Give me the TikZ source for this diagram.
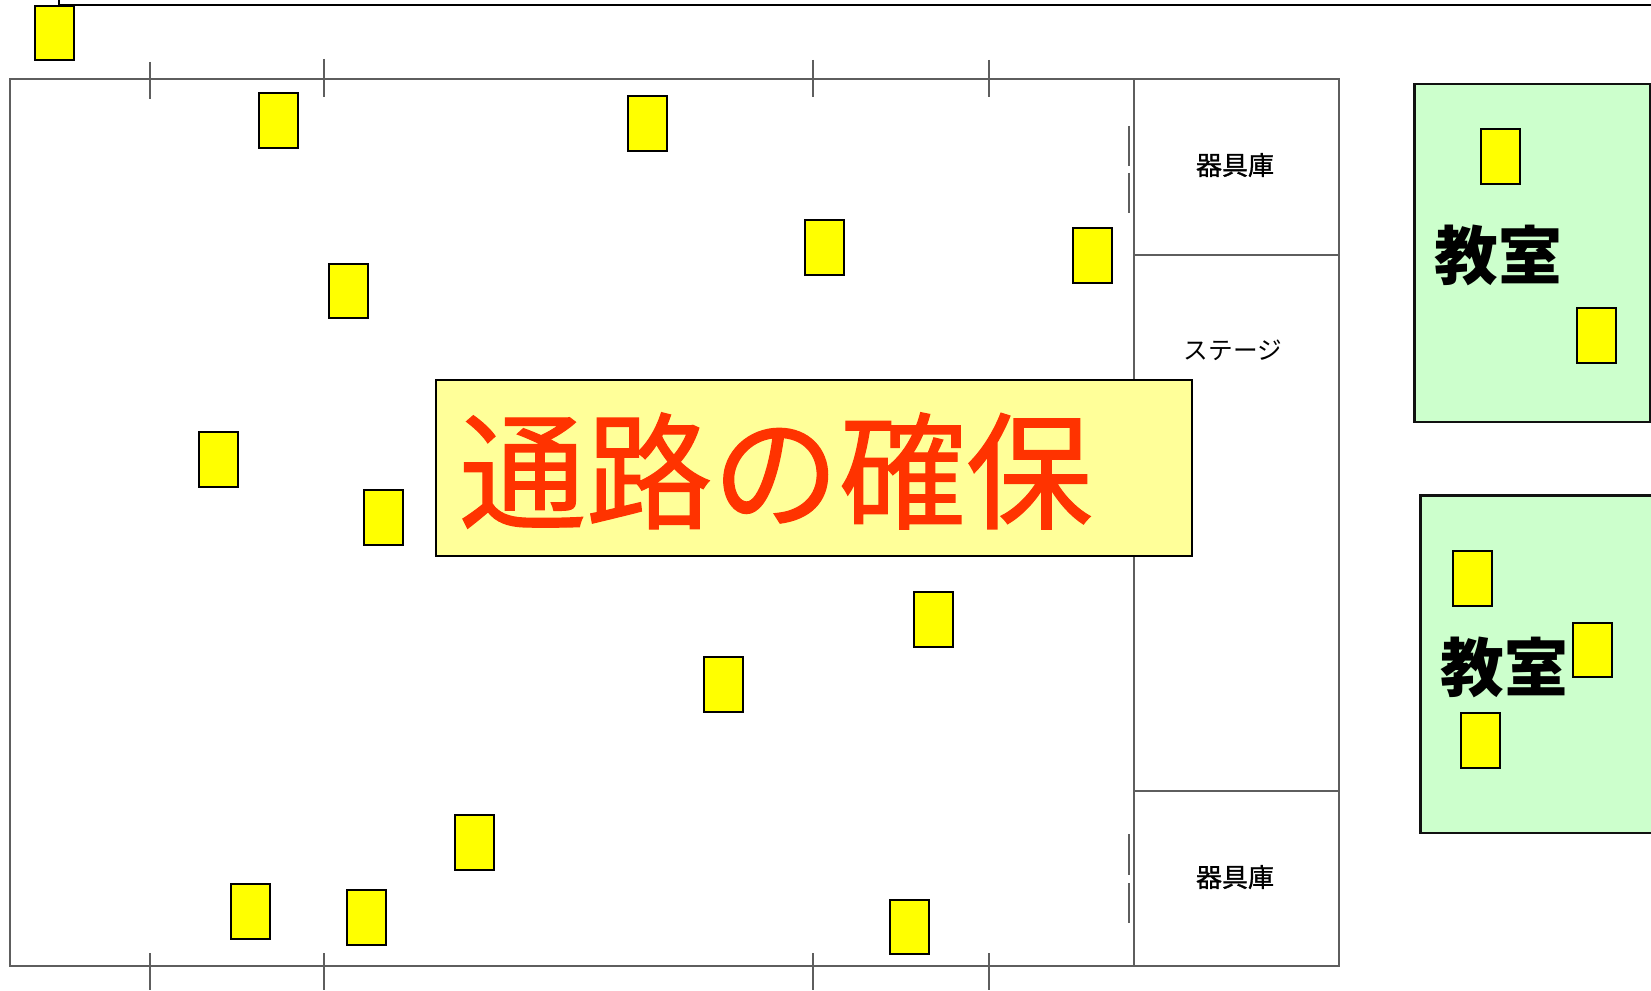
\documentclass[tikz,border=0pt]{standalone}
\usepackage{fontspec}
\setmainfont{Noto Sans CJK JP}
\newfontfamily\notefont[FakeBold=1.0]{Noto Sans CJK JP}
\newfontfamily\storefont[FakeBold=1.2]{Noto Sans CJK JP}
\definecolor{wallgray}{HTML}{5E5E5E}
\definecolor{roomgreen}{HTML}{CCFFCC}
\definecolor{notepale}{HTML}{FFFF99}
\definecolor{notered}{HTML}{FF3300}
\definecolor{markyellow}{HTML}{FFFF00}
\definecolor{edgedark}{HTML}{111111}
\tikzset{
  wall/.style={draw=wallgray,line width=1.5pt},
  tick/.style={draw=wallgray,line width=1.4pt},
  ybox/.style={draw=black,fill=markyellow,line width=1.5pt,anchor=north west,
    minimum width=29.3pt,minimum height=41pt,inner sep=0pt,outer sep=0pt},
  room/.style={draw=edgedark,fill=roomgreen,line width=1.7pt},
  labelsmall/.style={inner sep=0pt,font=\storefont\fontsize{19.5pt}{22pt}\selectfont,text=black},
  labelroom/.style={inner sep=0pt,font=\fontsize{47.8pt}{52pt}\selectfont\bfseries,text=black},
}
\begin{document}
\begin{tikzpicture}[x=0.75pt,y=-0.75pt]
\useasboundingbox (0,0) rectangle (1651,991);
% top line
\coordinate (tla) at (59,0);
\coordinate (tlb) at (59,5);
\coordinate (tlc) at (1651,5);
\draw[black,line width=1.3pt] (tla) -- (tlb) -- (tlc);
% hall
\draw[wall] (10,79.3) rectangle (1338.8,966);
\draw[wall] (1133.5,79.3) -- (1133.5,966);
\draw[wall] (1133.5,254.7) -- (1338.8,254.7);
\draw[wall] (1133.5,790.7) -- (1338.8,790.7);
% doors
\draw[tick] (1129.3,126) -- (1129.3,166);
\draw[tick] (1129.3,173) -- (1129.3,213);
\draw[tick] (1129.3,834) -- (1129.3,875);
\draw[tick] (1129.3,883) -- (1129.3,923);
% ticks
\foreach \tx/\ta/\tb in {150/62/99,324/59/97,813/60/97,989/60/97}{
  \draw[tick] (\tx,\ta) -- (\tx,\tb);
}
\foreach \tx in {150,324,813,989}{
  \draw[tick] (\tx,953) -- (\tx,990);
}
% rooms
\draw[room] (1414.5,84) rectangle (1650,422);
\fill[roomgreen] (1420.5,495.5) rectangle (1651,833);
\draw[edgedark,line width=1.7pt] (1651,495.5) -- (1420.5,495.5) -- (1420.5,833) -- (1651,833);
% labels
\node[labelsmall] (sto1) at (1235,165) {器具庫};
\node[labelsmall] (sto2) at (1235,877) {器具庫};
\node[inner sep=0pt,font=\fontsize{18.5pt}{22pt}\selectfont] (stage) at (1233,350) {ステージ};
\node[labelroom] (rm1) at (1498,255) {教室};
\node[labelroom] (rm2) at (1504,667) {教室};
% yellow boxes
\node[ybox] (y1) at (34.6,5.6) {};
\node[ybox] (y2) at (259,93) {};
\node[ybox] (y3) at (628,96.2) {};
\node[ybox] (y4) at (804.8,220.4) {};
\node[ybox] (y5) at (1073.4,228) {};
\node[ybox] (y6) at (329,263.6) {};
\node[ybox] (y7) at (199.4,432) {};
\node[ybox] (y8) at (363.7,490) {};
\node[ybox] (y9) at (914.4,592.2) {};
\node[ybox] (y10) at (703.8,657.4) {};
\node[ybox] (y11) at (455.3,815.4) {};
\node[ybox] (y12) at (231,884) {};
\node[ybox] (y13) at (346.8,890.2) {};
\node[ybox] (y14) at (890.2,899.7) {};
\node[ybox] (y15) at (1481,129.5) {};
\node[ybox] (y16) at (1577.4,308) {};
\node[ybox] (y17) at (1453.4,551) {};
\node[ybox] (y18) at (1573.4,622.7) {};
\node[ybox] (y19) at (1461.4,713) {};
% callout
\node[draw=black,fill=notepale,line width=2.1pt,minimum width=567pt,minimum height=132pt,
  inner sep=0pt,outer sep=0pt,anchor=north west] (note) at (436,380) {};
\node[anchor=west,inner sep=0pt,text=notered,font=\notefont\fontsize{95pt}{100pt}\selectfont] (notetext) at (459,471) {通路の確保};
\end{tikzpicture}
\end{document}
